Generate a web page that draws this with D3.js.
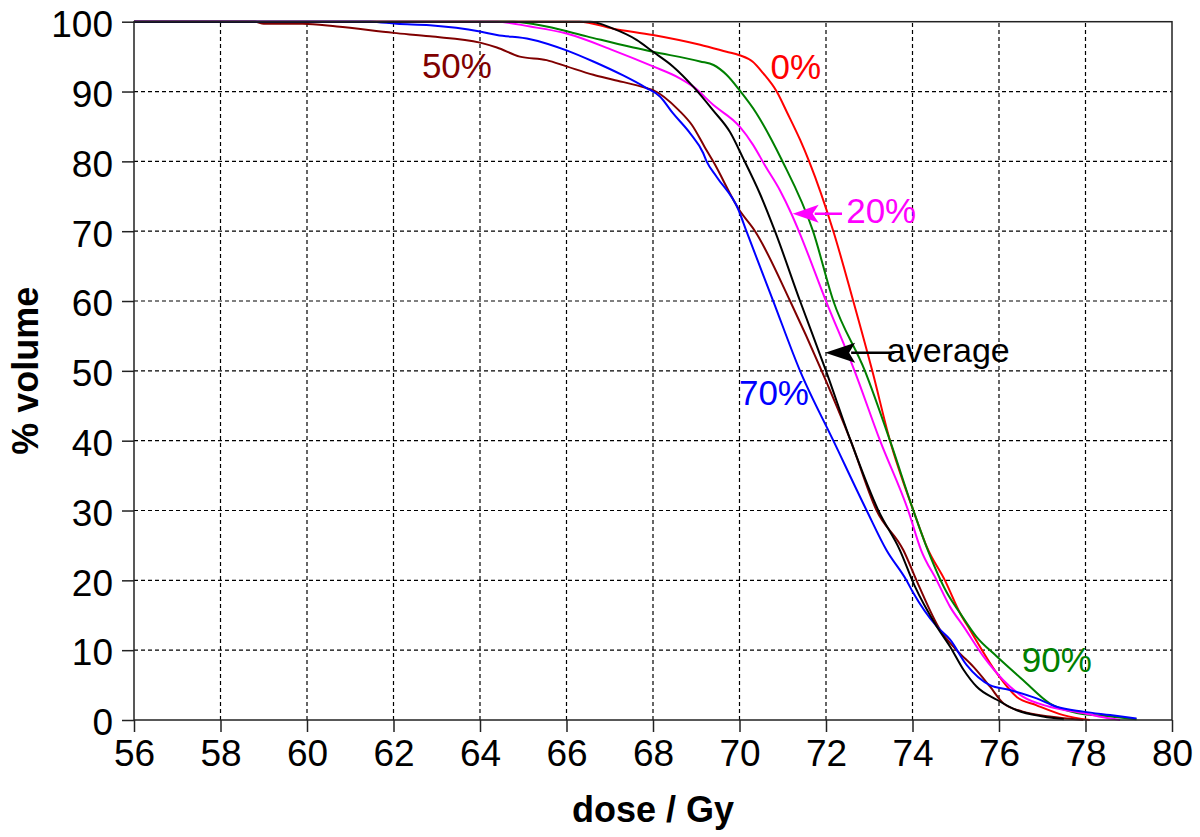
<!DOCTYPE html>
<html>
<head>
<meta charset="utf-8">
<script src="https://cdn.jsdelivr.net/npm/d3@7/dist/d3.min.js"></script>
<style>
  html, body { margin: 0; padding: 0; background: #fff; }
  svg { display: block; font-family: "Liberation Sans", Arial, sans-serif; }
</style>
</head>
<body>
<svg id="chart" width="1200" height="837"></svg>
<script>
// ---- data (dose / Gy, % volume) ----
const xTicks = [56, 58, 60, 62, 64, 66, 68, 70, 72, 74, 76, 78, 80];
const yTicks = [0, 10, 20, 30, 40, 50, 60, 70, 80, 90, 100];

const curve0 = [[56,100],[66.3,100],[67.08,99.0],[68,98.1],[69.09,96.7],[69.7,95.7],[70,95.2],[70.3,94.3],[70.55,92.6],[70.86,90.0],[71.1,87.0],[71.4,83.1],[71.61,80],[72.17,70],[72.63,60],[73.07,50],[73.48,40],[74.02,30],[74.33,24.8],[74.75,20],[75.1,15.3],[75.33,12.9],[75.95,6.7],[76.41,3.3],[76.87,2.1],[77.49,0.7],[78.1,0]];
const curve20 = [[56,100],[64.39,100],[65.16,99.3],[66,98.3],[67.08,95.9],[68,93.6],[68.62,91.9],[68.93,90.7],[69.39,88.1],[70,85.0],[70.31,82.4],[70.6,79.3],[70.94,75.8],[71.2,72.5],[71.36,70.2],[72.0,60],[72.66,50],[73.25,40],[73.9,30],[74.2,24.3],[74.56,20],[74.87,16.2],[75.18,13.4],[75.64,9.1],[76.1,5.7],[76.56,3.3],[77.17,1.9],[77.95,1.0],[78.57,0.2],[78.8,0]];
const curve50 = [[56,100],[58.8,100],[59.0,99.7],[59.9,99.7],[60.69,99.3],[62.0,98.4],[62.84,97.9],[64.0,97.0],[64.39,96.3],[64.92,95.0],[65.54,94.5],[66.0,93.6],[66.62,92.4],[67.08,91.7],[67.85,90.5],[68.0,90.2],[68.6,87.3],[68.9,85.2],[69.2,82.0],[69.39,80],[70.0,73],[70.36,70],[71.17,60],[71.9,50],[72.57,40],[73.17,30],[73.79,24.3],[74.12,19.6],[74.64,12.9],[75.02,10.0],[75.41,7.6],[75.79,4.8],[76.10,2.4],[76.55,1.2],[77.17,0.5],[77.95,0]];
const curve70 = [[56,100],[61.46,100],[62.07,99.7],[62.84,99.5],[64.0,98.6],[64.39,98.1],[65.16,97.5],[66,95.9],[66.62,94.3],[67.31,92.3],[67.85,90.5],[68.16,89.3],[68.46,86.9],[68.86,84.0],[69.16,81.2],[69.24,80],[69.47,77.8],[69.98,73],[70.16,70],[70.78,60],[71.4,50],[72.17,40],[72.94,30],[73.4,24.3],[73.86,20],[74.0,18.4],[74.56,13.4],[74.87,11.5],[75.25,7.9],[75.79,5.0],[76.25,4.3],[76.87,3.1],[77.33,1.9],[77.95,1.2],[78.57,0.7],[79.18,0.2]];
const curve90 = [[56,100],[64.77,100],[65.54,99.3],[66.47,97.9],[67.47,96.4],[68,95.7],[69.09,94.3],[69.4,93.8],[69.7,92.4],[70,90.2],[70.39,86.9],[70.74,83.1],[70.97,80.3],[71.7,70],[72.17,60],[72.9,50],[73.48,40],[74.02,30],[74.3,25.2],[74.79,18.3],[75.1,15.3],[75.48,11.9],[75.95,9.1],[76.56,5.7],[77.17,2.4],[77.8,1.0],[78.57,0.5],[79.18,0.1]];
const curveAvg = [[56,100],[66.54,100],[67.08,99.0],[67.62,97.4],[68.0,95.7],[68.46,93.6],[68.93,90.7],[69.39,87.3],[69.78,84.2],[70.08,80.5],[70.47,75.4],[70.82,70],[71.4,60],[72.0,50],[72.57,40],[73.21,30],[73.71,24.3],[74.05,19.2],[74.56,13.4],[74.87,10.5],[75.18,7.2],[75.48,4.8],[75.95,2.9],[76.41,1.4],[77.02,0.5],[77.5,0.1]];

const seriesNames = ["0%", "90%", "20%", "50%", "70%", "average"];
const seriesColors = ["#ff0000", "#008000", "#ff00ff", "#800000", "#0000ff", "#000000"];
const seriesData = [curve0, curve90, curve20, curve50, curve70, curveAvg];

// annotation labels: [text, dose, volume]
const labelTexts = ["50%", "0%", "20%", "average", "70%", "90%"];
const labelColors = ["#800000", "#ff0000", "#ff00ff", "#000000", "#0000ff", "#008000"];
const labelPos = [[62.68, 91.9], [70.74, 91.8], [72.49, 71.2], [73.43, 51.3], [70.01, 45.1], [76.55, 6.9]];
// arrows: [tailDose, tipDose, volume]
const arrowDefs = [[72.37, 71.23, 72.5], [73.58, 71.98, 52.6]];
const arrowColors = ["#ff00ff", "#000000"];

// ---- layout ----
const svg = d3.select("#chart");
const x = d3.scaleLinear().domain([56, 80]).range([134, 1172]);
const y = d3.scaleLinear().domain([0, 100]).range([720, 21.7]);

// gridlines
const grid = svg.append("g");
grid.selectAll("line.v").data(xTicks.slice(1, -1)).join("line")
  .attr("x1", d => x(d)).attr("x2", d => x(d))
  .attr("y1", y(0)).attr("y2", y(100))
  .attr("stroke", "#000").attr("stroke-width", 1.2).attr("stroke-dasharray", "4,3");
grid.selectAll("line.h").data(yTicks.slice(1, -1)).join("line")
  .attr("x1", x(56)).attr("x2", x(80))
  .attr("y1", d => y(d)).attr("y2", d => y(d))
  .attr("stroke", "#000").attr("stroke-width", 1.2).attr("stroke-dasharray", "4,3");

// curves
const line = d3.line().x(d => x(d[0])).y(d => y(d[1])).curve(d3.curveMonotoneX);
svg.append("g").selectAll("path").data(seriesData).join("path")
  .attr("d", d => line(d))
  .attr("fill", "none")
  .attr("stroke", (d, i) => seriesColors[i])
  .attr("stroke-width", 2)
  .attr("stroke-linejoin", "round");

// frame
svg.append("rect").attr("x", x(56)).attr("y", y(100))
  .attr("width", x(80) - x(56)).attr("height", y(0) - y(100))
  .attr("fill", "none").attr("stroke", "#222").attr("stroke-width", 1.5);

// axes
const xAxis = d3.axisBottom(x).tickValues(xTicks).tickSize(12).tickPadding(6).tickFormat(d3.format("d"));
const gx = svg.append("g").attr("transform", `translate(0,${y(0)})`).call(xAxis);
gx.select(".domain").remove();
gx.selectAll(".tick line").attr("stroke", "#222").attr("stroke-width", 1.5);
gx.selectAll(".tick text").attr("font-size", 37).attr("fill", "#000")
  .attr("font-family", "'Liberation Sans', Arial, sans-serif").attr("dy", "0.75em");

const yAxis = d3.axisLeft(y).tickValues(yTicks).tickSize(12).tickPadding(9).tickFormat(d3.format("d"));
const gy = svg.append("g").attr("transform", `translate(${x(56)},0)`).call(yAxis);
gy.select(".domain").remove();
gy.selectAll(".tick line").attr("stroke", "#222").attr("stroke-width", 1.5);
gy.selectAll(".tick text").attr("font-size", 37).attr("fill", "#000")
  .attr("font-family", "'Liberation Sans', Arial, sans-serif").attr("dy", "0.4em");

// axis titles
svg.append("text").attr("x", (x(56) + x(80)) / 2).attr("y", 822)
  .attr("text-anchor", "middle").attr("font-size", 36).attr("font-weight", "bold")
  .text("dose / Gy");
svg.append("text").attr("transform", `translate(38,${(y(0) + y(100)) / 2}) rotate(-90)`)
  .attr("text-anchor", "middle").attr("font-size", 36).attr("font-weight", "bold")
  .text("% volume");

// annotation labels
svg.append("g").selectAll("text").data(labelTexts).join("text")
  .attr("x", (d, i) => x(labelPos[i][0]) - 1)
  .attr("y", (d, i) => y(labelPos[i][1]))
  .attr("font-size", (d) => d === "average" ? 34 : 35)
  .attr("fill", (d, i) => labelColors[i])
  .text(d => d);

// arrows
const ag = svg.append("g");
arrowDefs.forEach((a, i) => {
  const tailX = x(a[0]), tipX = x(a[1]), yy = y(a[2]);
  const headLen = i === 0 ? 26 : 30, headHalf = i === 0 ? 9 : 10;
  ag.append("line").attr("x1", tailX).attr("x2", tipX + headLen - 4)
    .attr("y1", yy).attr("y2", yy)
    .attr("stroke", arrowColors[i]).attr("stroke-width", 2.5);
  ag.append("path")
    .attr("d", `M${tipX},${yy} L${tipX + headLen},${yy - headHalf} L${tipX + headLen - 6},${yy} L${tipX + headLen},${yy + headHalf} Z`)
    .attr("fill", arrowColors[i]);
});
</script>
</body>
</html>
